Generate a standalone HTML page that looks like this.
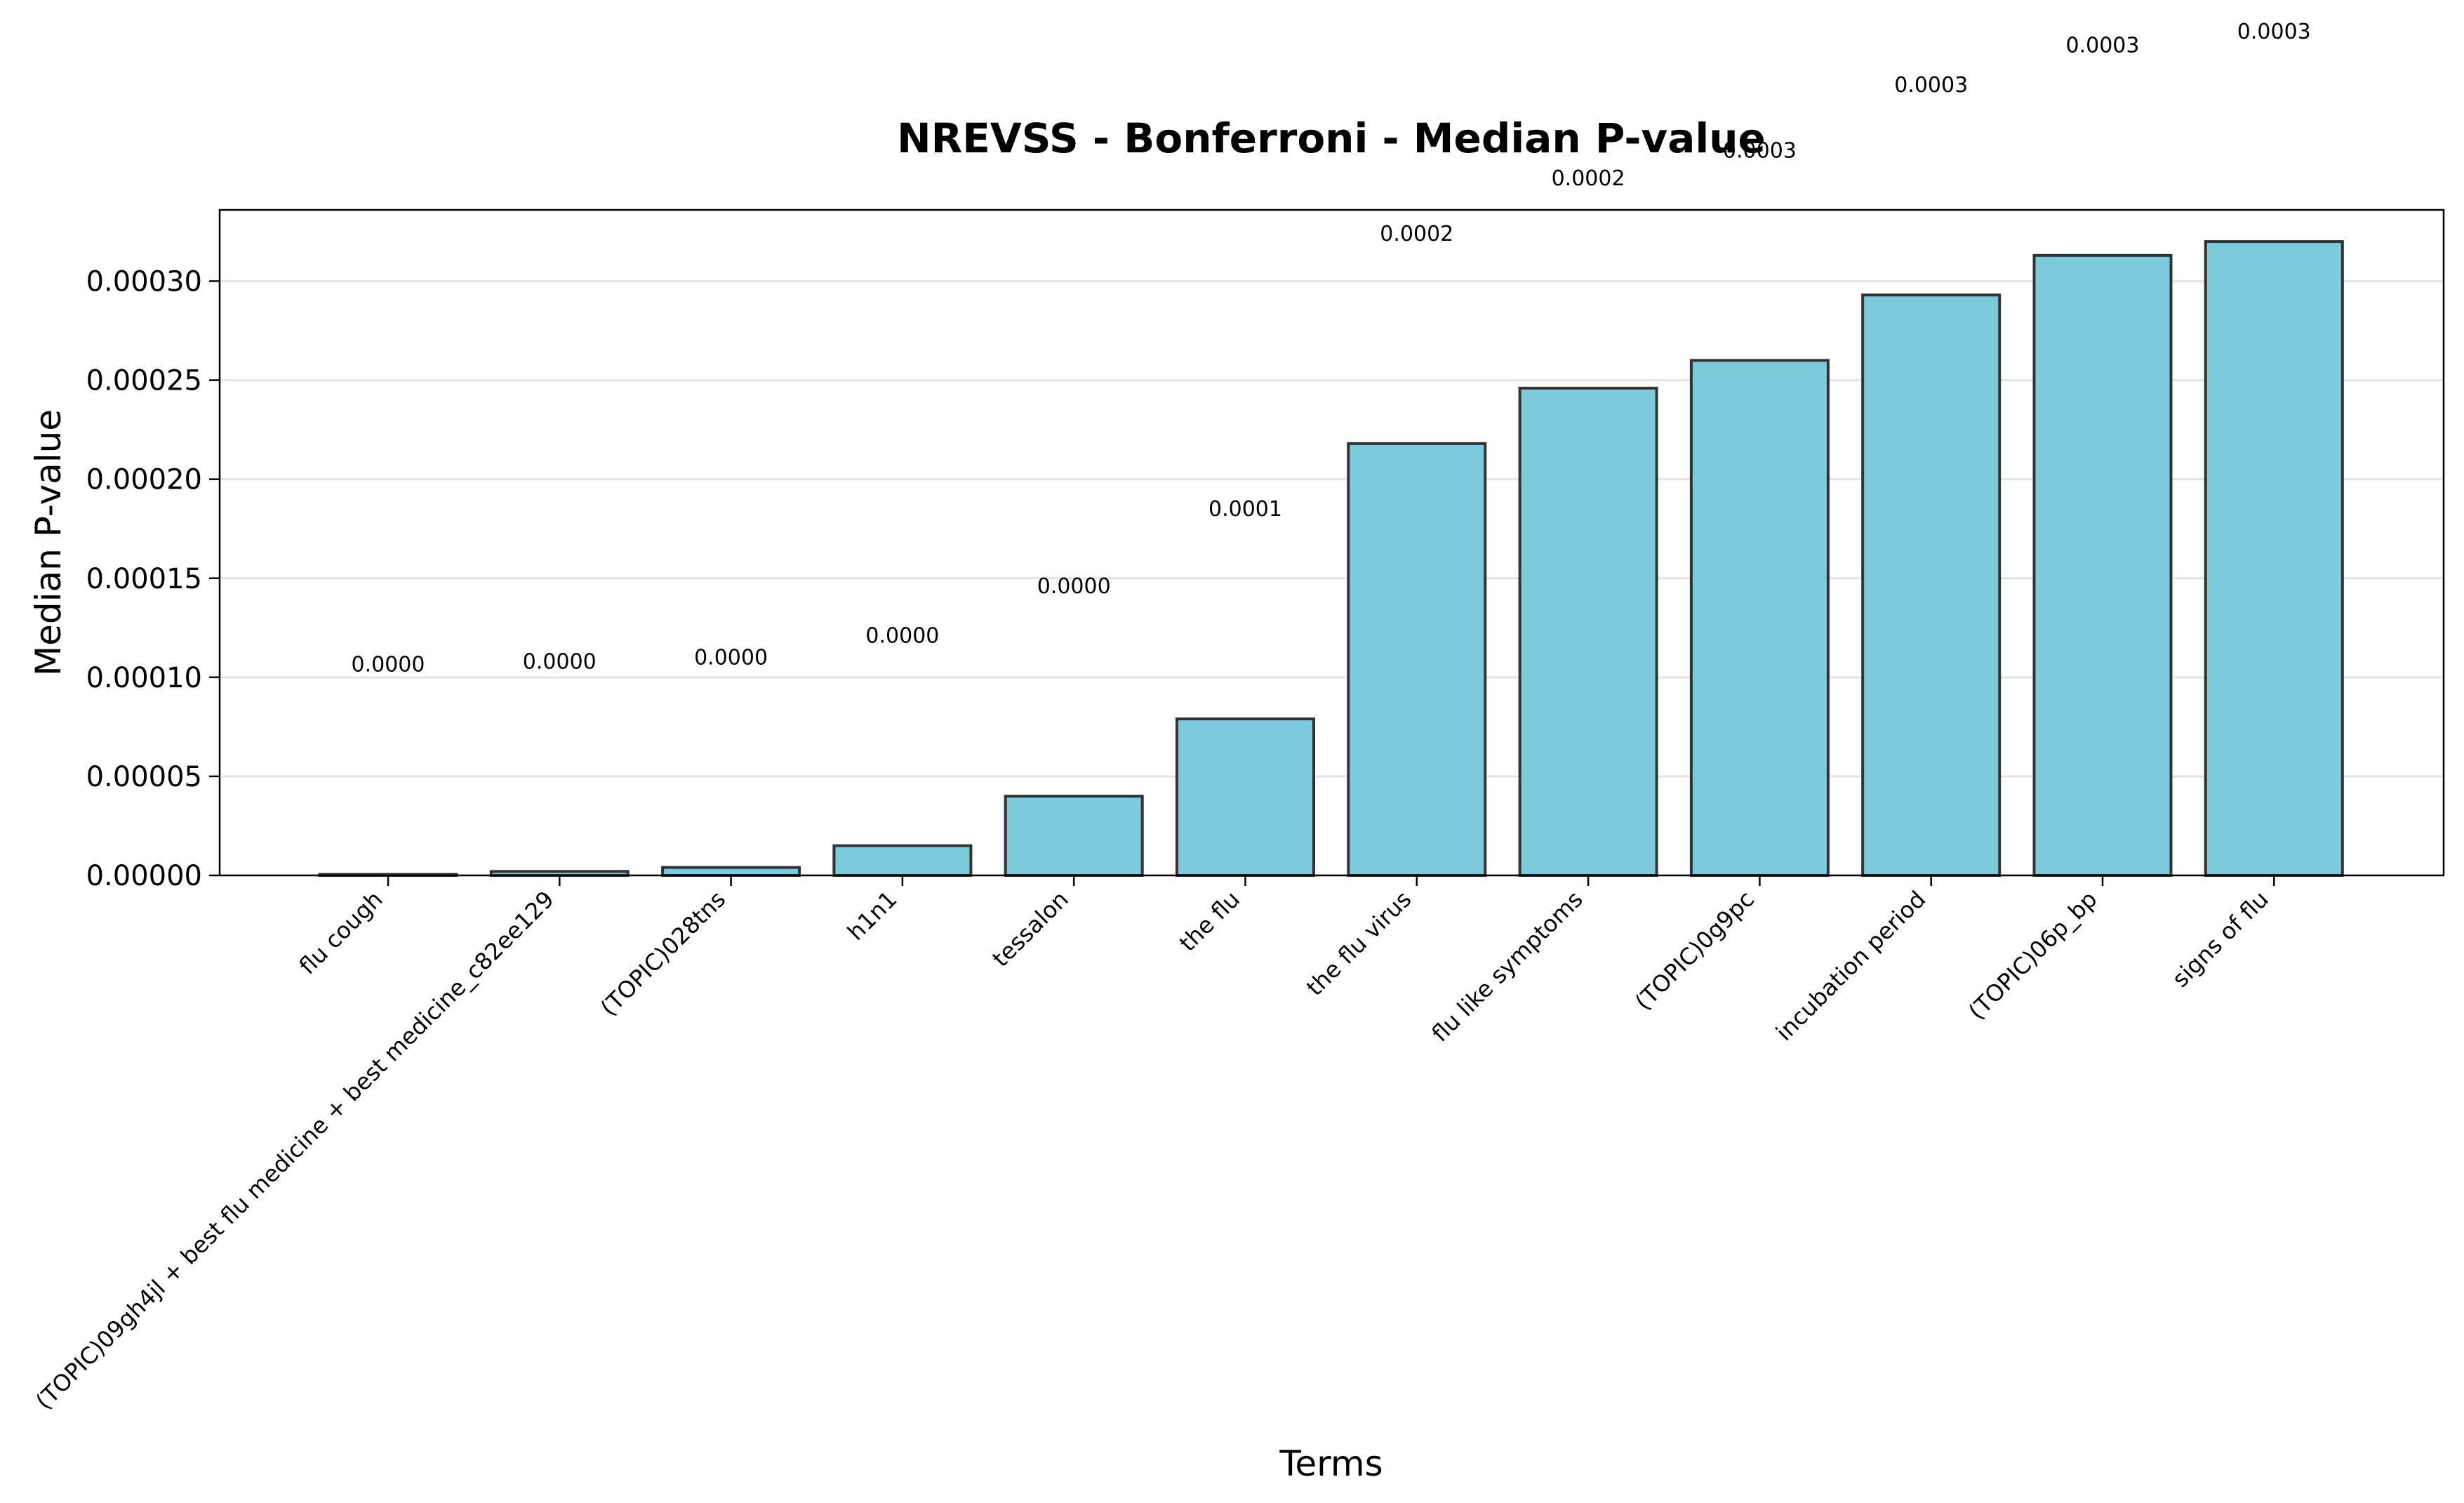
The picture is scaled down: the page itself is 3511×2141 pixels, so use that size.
<!DOCTYPE html>
<html><head><meta charset="utf-8"><style>
html,body{margin:0;padding:0;background:#fff;}
svg{display:block;font-family:"DejaVu Sans","Liberation Sans",sans-serif;}
</style></head><body>
<svg id="chart" width="3511" height="2141" viewBox="0 0 3511 2141" xmlns="http://www.w3.org/2000/svg">
<rect width="3511" height="2141" fill="#fff"/>
<text x="1897" y="217" text-anchor="middle" font-size="58" font-weight="bold">NREVSS - Bonferroni - Median P-value</text>
<g id="grid"></g>
<g id="bars"></g>
<g id="yaxis"></g>
<g id="xaxis"></g>
<g id="vlabels"></g>
<rect x="313" y="299" width="3169" height="948" fill="none" stroke="#000" stroke-width="2.5"/>
<text transform="translate(86,773) rotate(-90)" text-anchor="middle" font-size="50">Median P-value</text>
<text x="1897" y="2102" text-anchor="middle" font-size="50">Terms</text>
</svg>
<script>
const categories = ["flu cough","(TOPIC)09gh4jl + best flu medicine + best medicine_c82ee129","(TOPIC)028tns","h1n1","tessalon","the flu","the flu virus","flu like symptoms","(TOPIC)0g9pc","incubation period","(TOPIC)06p_bp","signs of flu"];
const values = [0.0000005,0.000002,0.000004,0.000015,0.00004,0.000079,0.000218,0.000246,0.00026,0.000293,0.000313,0.00032];
const yTicks = [0,0.00005,0.0001,0.00015,0.0002,0.00025,0.0003];
const yTickLabels = ["0.00000","0.00005","0.00010","0.00015","0.00020","0.00025","0.00030"];
const NS="http://www.w3.org/2000/svg";
const L=313,R=3482,T=299,B=1247;
const y0=1247, yPer=(1247-400.5)/0.0003;
function yS(v){return y0-v*yPer;}
function xS(i){return 553+i*244.3;}
const bw=195;
function mk(t,a,p){const e=document.createElementNS(NS,t);for(const k in a)e.setAttribute(k,a[k]);p.appendChild(e);return e;}
const grid=document.getElementById('grid'),yaxis=document.getElementById('yaxis'),bars=document.getElementById('bars'),xaxis=document.getElementById('xaxis'),vl=document.getElementById('vlabels');
yTicks.forEach((t,i)=>{
 const y=yS(t);
 const g=mk('line',{x1:L,x2:R,y1:y,y2:y,stroke:'#e3e3e3','stroke-width':3},grid);
 
 
 const tk=mk('line',{x1:L-15,x2:L,y1:y,y2:y,stroke:'#000','stroke-width':2.5},yaxis);
 
 
 const tx=mk('text',{x:L-25,y:y+14,'text-anchor':'end','font-size':40},yaxis);
 tx.textContent=yTickLabels[i];
 
 
});
categories.forEach((c,i)=>{
 const cx=xS(i),v=values[i];
 const r=mk('rect',{x:cx-bw/2,y:yS(v),width:bw,height:Math.max(y0-yS(v),0.5),fill:'#7ccadb',stroke:'#333','stroke-width':4},bars);
 
 
 const tk=mk('line',{x1:cx,x2:cx,y1:B,y2:B+15,stroke:'#000','stroke-width':2.5},xaxis);
 
 
 const tx=mk('text',{transform:'translate('+(cx-6)+','+(B+36)+') rotate(-45)','text-anchor':'end','font-size':32.5},xaxis);
 tx.textContent=c;
 
 
 const lb=mk('text',{x:cx,y:yS(v+0.000106)+10,'text-anchor':'middle','font-size':30},vl);
 lb.textContent=v.toFixed(4);
 
 
});
</script>
</body></html>
